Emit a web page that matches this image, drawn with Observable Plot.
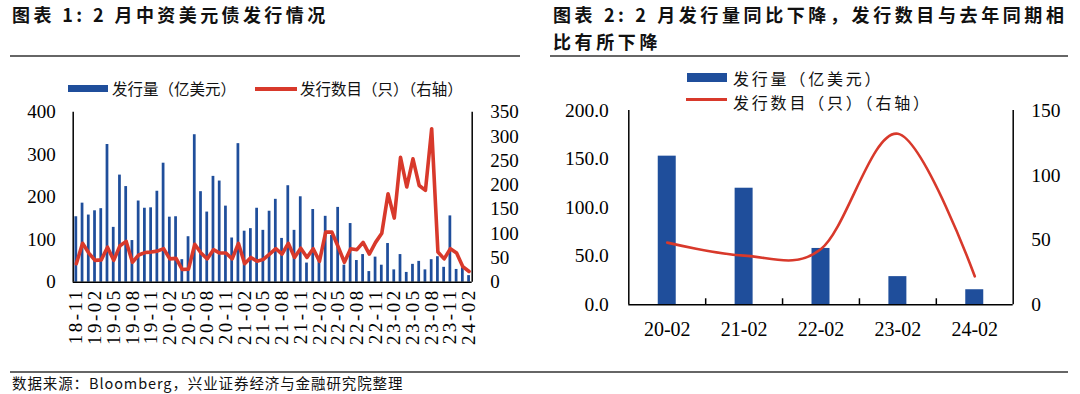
<!DOCTYPE html>
<html><head><meta charset="utf-8">
<script src="https://cdn.jsdelivr.net/npm/d3@7"></script>
<script src="https://cdn.jsdelivr.net/npm/@observablehq/plot@0.6"></script>
<style>
html,body{margin:0;padding:0;background:#fff;}
body{width:1080px;height:394px;position:relative;overflow:hidden;font-family:"Noto Sans CJK SC","Noto Sans",sans-serif;color:#111;}
.abs{position:absolute;white-space:nowrap;}
.title{font-size:18px;font-weight:700;line-height:27px;}
.rule{position:absolute;height:1.5px;background:#666;}
.leg{font-size:15.5px;line-height:18px;}
.legR{font-size:16px;line-height:20px;letter-spacing:2.8px;}
svg{overflow:visible;}
</style></head><body>

<div class="abs title" style="left:12px;top:1px;letter-spacing:3.4px;">图表 1: 2 月中资美元债发行情况</div>
<div class="abs title" style="left:553px;top:1px;letter-spacing:3.6px;">图表 2: 2 月发行量同比下降，发行数目与去年同期相<br>比有所下降</div>
<div class="rule" style="left:10px;top:55px;width:510px;"></div>
<div class="rule" style="left:550px;top:55px;width:518px;"></div>

<div id="legL"></div>
<div id="legR"></div>
<div id="chartL" class="abs" style="left:0;top:100px;"></div>
<div id="chartR" class="abs" style="left:540px;top:100px;"></div>

<div class="rule" style="left:10px;top:371px;width:1058px;"></div>
<div class="abs" style="left:12px;top:374px;font-size:14.5px;line-height:18px;letter-spacing:0.9px;">数据来源：Bloomberg，兴业证券经济与金融研究院整理</div>

<script>
// ---------- data: chart 1 ----------
const months = ["18-11","18-12",
 "19-01","19-02","19-03","19-04","19-05","19-06","19-07","19-08","19-09","19-10","19-11","19-12",
 "20-01","20-02","20-03","20-04","20-05","20-06","20-07","20-08","20-09","20-10","20-11","20-12",
 "21-01","21-02","21-03","21-04","21-05","21-06","21-07","21-08","21-09","21-10","21-11","21-12",
 "22-01","22-02","22-03","22-04","22-05","22-06","22-07","22-08","22-09","22-10","22-11","22-12",
 "23-01","23-02","23-03","23-04","23-05","23-06","23-07","23-08","23-09","23-10","23-11","23-12",
 "24-01","24-02"];
const volume = [154,186,158,168,173,324,129,252,225,98,191,174,175,214,280,153,154,53,107,347,213,165,249,238,179,104,326,120,126,174,122,167,195,103,227,122,201,45,171,58,155,110,176,40,138,51,65,25,59,40,91,29,65,23,42,49,29,53,60,35,156,30,34,15.5];
const counts = [38,80,60,45,46,72,45,75,84,41,56,61,62,64,69,48,49,26,27,78,60,48,67,60,60,48,80,38,51,43,47,58,69,58,80,51,70,51,69,43,103,103,73,41,69,67,82,58,82,101,182,132,257,196,254,199,189,316,62,48,69,60,32,22];
const tickLabelsL = ["18-11","19-02","19-05","19-08","19-11","20-02","20-05","20-08","20-11","21-02","21-05","21-08","21-11","22-02","22-05","22-08","22-11","23-02","23-05","23-08","23-11","24-02"];
const leftTicksL = [0,100,200,300,400];
const rightTicksL = [0,50,100,150,200,250,300,350];

// ---------- data: chart 2 ----------
const catsR = ["20-02","21-02","22-02","23-02","24-02"];
const volR = [153,120,58,29,15.5];
const cntR = [48,38,43,132,22];
const leftTicksR = [0,50,100,150,200];
const rightTicksR = [0,50,100,150];

const seriesNames = ["发行量（亿美元）","发行数目（只）（右轴）"];
const BLUE = "#1f4e9b", RED = "#d8392b";

// ---------- chart 1 ----------
const WL = 540, mLL = 72.7, mRL = 68.3;
const stepL = (WL - mLL - mRL) / months.length;
const kL = 400/350;
const dataL = months.map((m,i)=>({m, v: volume[i], c: counts[i]}));
const plotL = Plot.plot({
  width: WL, height: 260,
  marginLeft: mLL, marginRight: mRL, marginTop: 11.7, marginBottom: 78.3,
  style: {fontFamily: "'Liberation Serif', serif", fontSize: "19px", color: "#000", background: "transparent", overflow: "visible"},
  x: {type: "band", domain: months, paddingInner: 0.56, paddingOuter: 0.28, round: false},
  y: {domain: [0, 400]},
  marks: [
    Plot.barY(dataL, {x: "m", y: "v", fill: BLUE}),
    Plot.line(dataL, {x: "m", y: d => d.c * kL, stroke: RED, strokeWidth: 3.6, strokeLinejoin: "round", curve: "linear"}),
    Plot.ruleY([0], {stroke: "#000", strokeWidth: 1.6}),
    Plot.ruleX([months[0]], {x: d => d, dx: -stepL/2, stroke: "#000", strokeWidth: 1.5}),
    Plot.ruleX([months[months.length-1]], {x: d => d, dx: stepL/2, stroke: "#000", strokeWidth: 1.5}),
    Plot.axisY({anchor: "left", ticks: leftTicksL, tickSize: 0, tickPadding: 17.5, label: null}),
    Plot.axisY({anchor: "right", ticks: rightTicksL.map(v => v*kL), tickFormat: v => String(Math.round(v/kL)), tickSize: 0, tickPadding: 18, label: null}),
    Plot.axisX({ticks: tickLabelsL, tickRotate: -90, tickSize: 0, tickPadding: 6, label: null, fontSize: 19})
  ]
});
d3.select(plotL).selectAll("g[aria-label='x-axis tick label'] text").attr("letter-spacing", "2.5px");
document.getElementById("chartL").appendChild(plotL);

// ---------- chart 2 ----------
const WR = 540, mLR = 88.3, mRR = 67.3;
const stepR = (WR - mLR - mRR) / catsR.length;
const kR = 200/150;
const dataR = catsR.map((m,i)=>({m, v: volR[i], c: cntR[i]}));
const plotR = Plot.plot({
  width: WR, height: 260,
  marginLeft: mLR, marginRight: mRR, marginTop: 10, marginBottom: 55.7,
  style: {fontFamily: "'Liberation Serif', serif", fontSize: "19.5px", color: "#000", background: "transparent", overflow: "visible"},
  x: {type: "band", domain: catsR, paddingInner: 0.766, paddingOuter: 0.383, round: false},
  y: {domain: [0, 200]},
  marks: [
    Plot.barY(dataR, {x: "m", y: "v", fill: BLUE}),
    Plot.line(dataR, {x: "m", y: d => d.c * kR, stroke: RED, strokeWidth: 2.6, curve: "cardinal"}),
    Plot.ruleY([0], {stroke: "#000", strokeWidth: 1.6}),
    Plot.ruleX([catsR[0]], {x: d => d, dx: -stepR/2, stroke: "#000", strokeWidth: 1.5}),
    Plot.ruleX([catsR[catsR.length-1]], {x: d => d, dx: stepR/2, stroke: "#000", strokeWidth: 1.5}),
    Plot.ruleX(catsR.slice(0, 4), {x: d => d, y1: 0, y2: 6.2, dx: stepR/2, stroke: "#000", strokeWidth: 1.5}),
    Plot.axisY({anchor: "left", ticks: leftTicksR, tickFormat: v => v.toFixed(1), tickSize: 0, tickPadding: 20, label: null}),
    Plot.axisY({anchor: "right", ticks: rightTicksR.map(v => v*kR), tickFormat: v => String(Math.round(v/kR)), tickSize: 0, tickPadding: 18, label: null}),
    Plot.axisX({tickSize: 0, tickPadding: 17, label: null, fontSize: 20})
  ]
});
document.getElementById("chartR").appendChild(plotR);

// ---------- legends ----------
document.getElementById("legL").innerHTML =
  `<div class="abs" style="left:68px;top:85px;width:40px;height:7px;background:${BLUE}"></div>
   <div class="abs leg" style="left:112px;top:79px;">${seriesNames[0]}</div>
   <div class="abs" style="left:255px;top:86.5px;width:42px;height:4px;background:${RED}"></div>
   <div class="abs leg" style="left:300px;top:79px;">${seriesNames[1]}</div>`;
document.getElementById("legR").innerHTML =
  `<div class="abs" style="left:687px;top:73px;width:40px;height:9px;background:${BLUE}"></div>
   <div class="abs legR" style="left:733px;top:68px;">${seriesNames[0]}</div>
   <div class="abs" style="left:686px;top:97.5px;width:41px;height:3.5px;background:${RED}"></div>
   <div class="abs legR" style="left:733px;top:91.5px;">${seriesNames[1]}</div>`;
</script>
</body></html>
